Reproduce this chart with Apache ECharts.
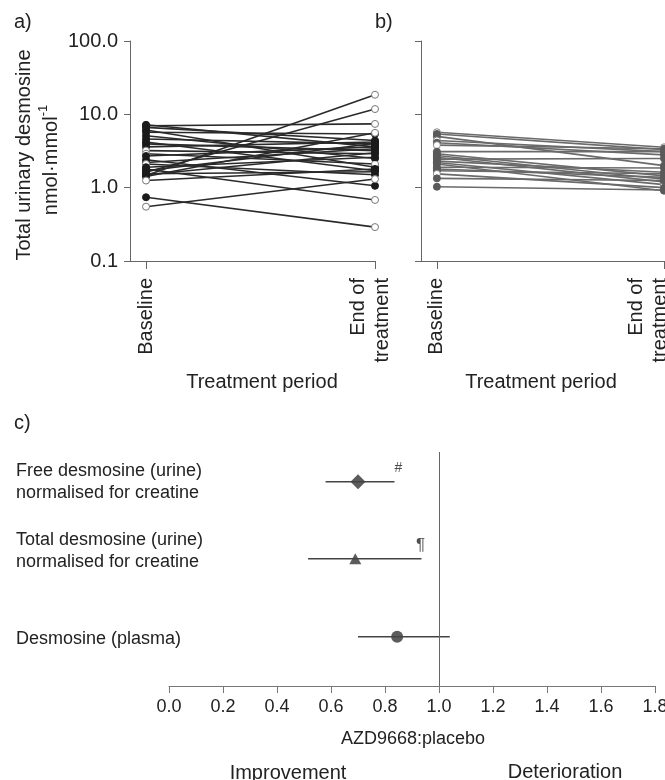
<!DOCTYPE html>
<html>
<head>
<meta charset="utf-8">
<script src="https://cdn.jsdelivr.net/npm/echarts@6/dist/echarts.min.js"></script>
<style>
  html, body { margin: 0; padding: 0; background: #fff; }
  #chart { width: 665px; height: 780px; }
</style>
</head>
<body>
<div id="chart"></div>
<script>
// panel a: AZD9668, total urinary desmosine per subject
const aBase = [7.2, 7.0, 6.65, 6.1, 5.7, 5.1, 4.6, 4.2, 3.95, 3.6, 3.2, 2.9, 2.7, 2.4, 2.2, 2.1, 1.9, 1.8, 1.7, 1.62, 1.55, 1.46, 1.42, 1.5, 1.25, 0.74, 0.55];
const aEnd = [3.6, 7.4, 4.4, 1.9, 5.4, 2.5, 3.95, 1.7, 3.2, 4.2, 2.9, 2.1, 3.6, 1.06, 3.4, 1.5, 2.6, 0.68, 4.0, 11.8, 1.65, 18.5, 5.6, 3.0, 1.8, 0.29, 1.31];
// 1 = open circle, 0 = filled circle
const aBaseOpen = [0, 0, 0, 0, 0, 0, 0, 0, 0, 0, 1, 1, 0, 0, 0, 1, 0, 0, 0, 0, 0, 0, 0, 0, 1, 0, 1];
const aEndOpen = [0, 1, 0, 0, 0, 0, 0, 0, 0, 0, 0, 1, 0, 0, 0, 0, 0, 1, 0, 1, 0, 1, 1, 0, 0, 1, 1];

// panel b: placebo
const bBase = [5.7, 5.4, 5.0, 4.4, 4.1, 3.8, 3.1, 2.9, 2.75, 2.6, 2.45, 2.3, 2.2, 2.1, 1.9, 1.8, 1.7, 1.54, 1.34, 1.03];
const bEnd = [3.55, 3.3, 2.0, 3.1, 2.8, 3.4, 3.1, 1.45, 1.3, 1.2, 2.5, 1.62, 1.1, 0.91, 1.85, 1.38, 1.55, 1.0, 1.25, 0.93];
const bBaseOpen = [1, 0, 0, 1, 0, 1, 0, 0, 0, 0, 0, 0, 0, 0, 0, 0, 0, 1, 0, 0];
const bEndOpen = [1, 0, 0, 0, 0, 0, 0, 0, 0, 0, 0, 0, 1, 0, 0, 0, 0, 0, 0, 0];

const periodLabels = ["Baseline", "End of\ntreatment"];
const yTicks = [0.1, 1, 10, 100];

// panel c: ratio AZD9668:placebo with CI
const cLabels = ["Free desmosine (urine)\nnormalised for creatine", "Total desmosine (urine)\nnormalised for creatine", "Desmosine (plasma)"];
const cRow = [2.62, 1.63, 0.63];
const cLabelRow = [2.62, 1.73, 0.6];
const cRatio = [0.70, 0.69, 0.845];
const cLow = [0.58, 0.515, 0.70];
const cHigh = [0.835, 0.935, 1.04];
const cMark = ["#", "¶", ""];
const cShape = ["diamond", "triangle", "circle"];

const FONT = "'Liberation Sans', Arial, sans-serif";
const TXT = "#222";
const AXIS = "#666";

function pointStyle(open, fill, ring) {
  return open
    ? { color: "#fff", borderColor: ring, borderWidth: 1 }
    : { color: fill, borderColor: fill, borderWidth: 1 };
}

function pairSeries(base, end, baseOpen, endOpen, idx, lineColor, fill, ring) {
  return base.map((v, i) => ({
    type: "line",
    xAxisIndex: idx,
    yAxisIndex: idx,
    symbol: "circle",
    symbolSize: 7,
    silent: true,
    lineStyle: { color: lineColor, width: 1.6 },
    itemStyle: { color: fill },
    data: [
      { value: [0, v], itemStyle: pointStyle(baseOpen[i], fill, ring) },
      { value: [1, end[i]], itemStyle: pointStyle(endOpen[i], fill, ring) },
    ],
  }));
}

// endLabelAt: where the two-line "End of treatment" label block is centred
function periodAxis(idx, endLabelAt) {
  return {
    gridIndex: idx,
    type: "value",
    min: -0.07,
    max: 1,
    axisLine: { onZero: false, lineStyle: { color: AXIS } },
    axisTick: { customValues: [0, 1], length: 8, lineStyle: { color: AXIS } },
    axisLabel: {
      customValues: [0, endLabelAt],
      rotate: 90,
      margin: 17,
      fontSize: 20,
      lineHeight: 24,
      color: TXT,
      fontFamily: FONT,
      formatter: (v) => periodLabels[v < 0.5 ? 0 : 1],
    },
    splitLine: { show: false },
  };
}

function logAxis(idx, showLabels) {
  return {
    gridIndex: idx,
    type: "log",
    logBase: 10,
    min: 0.1,
    max: 100,
    axisLine: { show: true, onZero: false, lineStyle: { color: AXIS } },
    axisTick: { show: true, customValues: yTicks, length: 6, lineStyle: { color: AXIS } },
    axisLabel: {
      show: showLabels,
      customValues: yTicks,
      margin: 12,
      fontSize: 20,
      color: TXT,
      fontFamily: FONT,
      formatter: (v) => Number(v).toFixed(1),
    },
    splitLine: { show: false },
  };
}

const series = [
  ...pairSeries(aBase, aEnd, aBaseOpen, aEndOpen, 0, "#2a2a2a", "#1a1a1a", "#777"),
  ...pairSeries(bBase, bEnd, bBaseOpen, bEndOpen, 1, "#6a6a6a", "#5a5a5a", "#888"),
];

// error bars
cRatio.forEach((r, i) => {
  series.push({
    type: "line",
    xAxisIndex: 2,
    yAxisIndex: 2,
    symbol: "none",
    silent: true,
    lineStyle: { color: "#444", width: 1.5 },
    data: [[cLow[i], cRow[i]], [cHigh[i], cRow[i]]],
    markLine: i === 0 ? {
      symbol: "none",
      silent: true,
      label: { show: false },
      lineStyle: { color: "#666", width: 1, type: "solid" },
      data: [{ xAxis: 1 }],
    } : undefined,
  });
});

// significance marks at CI upper end
series.push({
  type: "scatter",
  xAxisIndex: 2,
  yAxisIndex: 2,
  symbolSize: 0,
  silent: true,
  data: cHigh.map((h, i) => ({
    value: [h, cRow[i]],
    label: {
      show: cMark[i] !== "",
      formatter: cMark[i],
      position: "top",
      distance: i === 0 ? 6 : 5,
      offset: i === 0 ? [4, 0] : [-1, 0],
      fontSize: i === 0 ? 14 : 17,
      color: TXT,
      fontFamily: FONT,
    },
  })),
});

// point estimates
series.push({
  type: "scatter",
  xAxisIndex: 2,
  yAxisIndex: 2,
  silent: true,
  itemStyle: { color: "#333" },
  data: cRatio.map((r, i) => ({
    value: [r, cRow[i]],
    symbol: cShape[i],
    symbolSize: i === 0 ? [15, 15] : i === 1 ? [12, 11] : 12,
  })),
});

const option = {
  animation: false,
  backgroundColor: "#fff",
  textStyle: { fontFamily: FONT },
  grid: [
    { left: 130, top: 41, width: 245, height: 220, outerBoundsMode: "none" },
    { left: 421, top: 41, width: 243, height: 220, outerBoundsMode: "none" },
    { left: 169, top: 452, width: 486, height: 234, outerBoundsMode: "none" },
  ],
  xAxis: [
    periodAxis(0, 0.982),
    periodAxis(1, 0.93),
    {
      gridIndex: 2,
      type: "value",
      min: 0,
      max: 1.8,
      interval: 0.2,
      axisLine: { onZero: false, lineStyle: { color: "#777" } },
      axisTick: { length: 7, lineStyle: { color: "#777" } },
      axisLabel: {
        margin: 12,
        fontSize: 18,
        color: TXT,
        fontFamily: FONT,
        formatter: (v) => Number(v).toFixed(1),
      },
      splitLine: { show: false },
    },
  ],
  yAxis: [
    logAxis(0, true),
    logAxis(1, false),
    {
      gridIndex: 2,
      type: "value",
      min: 0,
      max: 3,
      axisLine: { show: false },
      axisTick: { show: false },
      splitLine: { show: false },
      axisLabel: {
        customValues: cLabelRow,
        align: "left",
        margin: 153,
        fontSize: 18,
        lineHeight: 22,
        color: TXT,
        fontFamily: FONT,
        formatter: (v) => {
          const k = cLabelRow.findIndex((p) => Math.abs(p - v) < 1e-6);
          return k >= 0 ? cLabels[k] : "";
        },
      },
    },
  ],
  graphic: [
    { type: "text", left: 14, top: 12, style: { text: "a)", fontSize: 20, fill: TXT, fontFamily: FONT } },
    { type: "text", left: 375, top: 12, style: { text: "b)", fontSize: 20, fill: TXT, fontFamily: FONT } },
    { type: "text", left: 14, top: 413, style: { text: "c)", fontSize: 20, fill: TXT, fontFamily: FONT } },
    {
      type: "text", x: 24, y: 155, rotation: Math.PI / 2,
      style: { text: "Total urinary desmosine", fontSize: 20, fill: TXT, fontFamily: FONT, align: "center", verticalAlign: "middle" },
    },
    {
      type: "text", x: 49, y: 160, rotation: Math.PI / 2,
      style: {
        text: "{b|nmol·mmol}{s|-1}",
        align: "center", verticalAlign: "middle",
        rich: {
          b: { fontSize: 20, fill: TXT, fontFamily: FONT, lineHeight: 24, verticalAlign: "bottom" },
          s: { fontSize: 13, fill: TXT, fontFamily: FONT, lineHeight: 24, verticalAlign: "top" },
        },
      },
    },
    { type: "text", x: 262, y: 382, style: { text: "Treatment period", fontSize: 20, fill: TXT, fontFamily: FONT, align: "center", verticalAlign: "middle" } },
    { type: "text", x: 541, y: 382, style: { text: "Treatment period", fontSize: 20, fill: TXT, fontFamily: FONT, align: "center", verticalAlign: "middle" } },
    { type: "text", x: 413, y: 739, style: { text: "AZD9668:placebo", fontSize: 18, fill: TXT, fontFamily: FONT, align: "center", verticalAlign: "middle" } },
    { type: "text", x: 288, y: 773, style: { text: "Improvement", fontSize: 20, fill: TXT, fontFamily: FONT, align: "center", verticalAlign: "middle" } },
    { type: "text", x: 565, y: 772, style: { text: "Deterioration", fontSize: 20, fill: TXT, fontFamily: FONT, align: "center", verticalAlign: "middle" } },
  ],
  series: series,
};

const chart = echarts.init(document.getElementById("chart"), null, { renderer: "canvas" });
chart.setOption(option);
</script>
</body>
</html>
